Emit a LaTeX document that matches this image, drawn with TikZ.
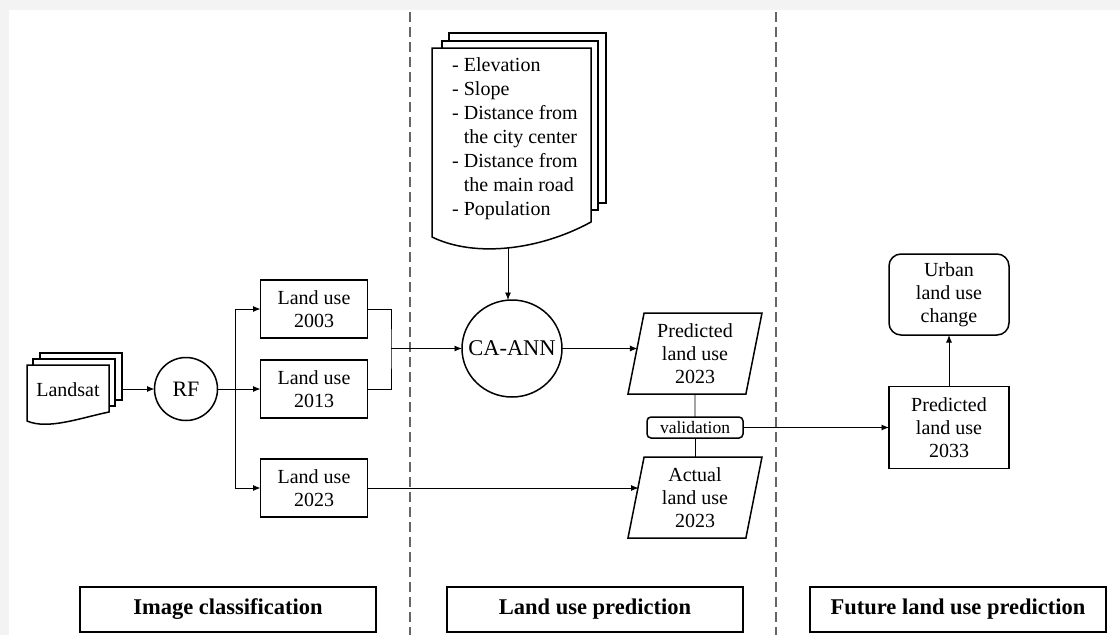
\documentclass[tikz,border=0pt]{standalone}
\usepackage{fontspec}
\setmainfont{Liberation Serif}
\newfontfamily\tnr{Liberation Serif}
\usetikzlibrary{shapes.geometric,arrows.meta}
\definecolor{bggray}{HTML}{F3F3F3}
\definecolor{dashgray}{HTML}{666666}
\begin{document}
\begin{tikzpicture}[x=1pt,y=-1pt,
  conn/.style={line width=0.9pt, draw=black},
  arr/.style={conn, -{Latex[length=7.5pt,width=6pt]}},
  txt/.style={font=\tnr\fontsize{20}{23}\selectfont, align=center, inner sep=0pt, outer sep=0pt},
  stepbox/.style={txt, draw, line width=1.5pt, minimum width=107pt, minimum height=58pt},
  para/.style={txt, trapezium, trapezium left angle=75, trapezium right angle=105,
    trapezium stretches body, draw, line width=1.5pt, minimum width=134pt, minimum height=81pt},
  roundbox/.style={txt, draw, line width=1.5pt, rounded corners=12pt, minimum width=120pt, minimum height=81pt},
  phase/.style={draw, line width=1.7pt, minimum width=296pt, minimum height=45pt, inner sep=0pt,
    font=\tnr\fontsize{22.5}{26}\selectfont\bfseries},
  page/.style={draw, line width=1.5pt, fill=white},
  divider/.style={draw=dashgray, line width=1.3pt, dash pattern=on 10pt off 5pt}
]
\useasboundingbox (0,0) rectangle (1120,635);
\fill[bggray] (0,0) rectangle (1120,635);
\fill[white] (9,10) rectangle (1120,635);

% dividers
\coordinate (d1t) at (410,12); \coordinate (d1b) at (410,635);
\coordinate (d2t) at (776,12); \coordinate (d2b) at (776,635);
\draw[divider] (d1t) -- (d1b);
\draw[divider] (d2t) -- (d2b);

% Landsat document stack
\draw[page] (40,353) rectangle (122,400);
\draw[page] (33,359) rectangle (115,406);
\draw[page] (27,365) -- (109,365) -- (109,412) .. controls (80,418) and (48,430) .. (27,421) -- cycle;
\node[txt] (landsat) at (68,390) {Landsat};
\coordinate (landsatR) at (122,389);

% RF
\node[txt, circle, draw, line width=1.5pt, minimum size=63pt, font=\tnr\fontsize{22}{24}\selectfont] (rf) at (186,389) {RF};

% land use boxes
\node[stepbox] (lu03) at (314,309) {Land use\\2003};
\node[stepbox] (lu13) at (314,389) {Land use\\2013};
\node[stepbox] (lu23) at (314,488) {Land use\\2023};

% factors document stack
\draw[page] (449,33) rectangle (606,203);
\draw[page] (442,41) rectangle (598,210);
\draw[page] (432,48) -- (591,48) -- (591,222) .. controls (540,250) and (475,258) .. (432,237) -- cycle;
\node[font=\tnr\fontsize{20}{24}\selectfont, align=left, inner sep=0pt, anchor=north west] (factors) at (452,57.5)
  {- Elevation\\- Slope\\- Distance from\\\phantom{- }the city center\\- Distance from\\\phantom{- }the main road\\- Population};
\coordinate (docbot) at (508,248);

% CA-ANN
\node[txt, ellipse, draw, line width=1.5pt, minimum width=100pt, minimum height=97pt, font=\tnr\fontsize{22.5}{25}\selectfont] (caann) at (512,348.5) {\makebox[50pt]{CA-ANN}};

% prediction
\node[para] (pred) at (695,353.5) {Predicted\\land use\\2023};
\node[txt, draw, line width=1.5pt, rounded corners=4pt, minimum width=96pt, minimum height=21pt, font=\tnr\fontsize{17.5}{20}\selectfont] (val) at (695,427.5) {validation};
\node[para] (act) at (695,497.5) {Actual\\land use\\2023};

% future
\node[stepbox, minimum width=120pt, minimum height=82pt] (p33) at (949,427.5) {Predicted\\land use\\2033};
\node[roundbox] (urban) at (949,294.5) {Urban\\land use\\change};

% phase labels
\node[phase] (ph1) at (228,609.5) {Image classification};
\node[phase] (ph2) at (595,609.5) {Land use prediction};
\node[phase] (ph3) at (958,609.5) {Future land use prediction};

% connectors
\draw[arr] (landsatR) -- (rf);
\coordinate (b1) at (235,309);
\coordinate (b3) at (235,488);
\draw[conn] (b1) -- (b3);
\draw[arr] (b1) -- (lu03);
\draw[arr] (rf) -- (lu13);
\draw[arr] (b3) -- (lu23);
\coordinate (j) at (391,348.5);
\draw[conn] (lu03.east) -| (j) |- (lu13.east);
\draw[arr] (j) -- (caann);
\draw[arr] (docbot) -- (docbot |- caann.north);
\draw[arr, shorten >=-1.4pt] (caann.east) -- (caann.east -| pred.west);
\draw[conn] (pred) -- (val);
\draw[conn] (val) -- (act);
\draw[arr, shorten >=-2.5pt] (lu23.east) -- (lu23.east -| act.west);
\draw[arr] (val) -- (p33);
\draw[arr] (p33) -- (urban);
\end{tikzpicture}
\end{document}
